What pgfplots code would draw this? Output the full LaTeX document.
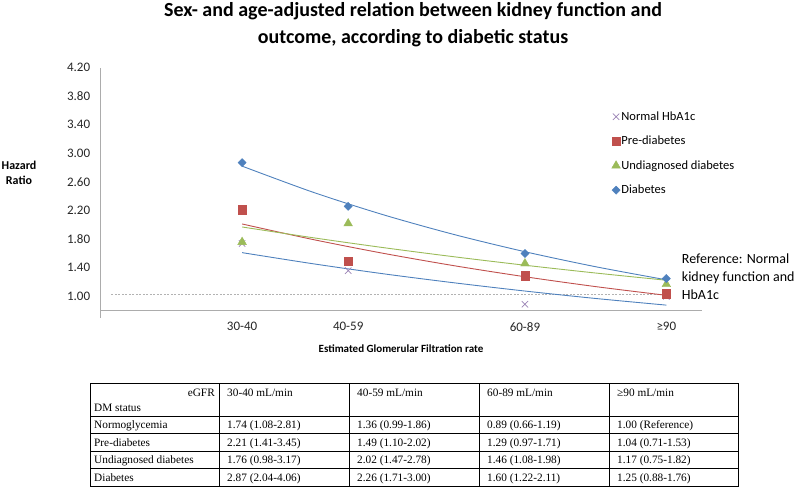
\documentclass[border=0pt]{standalone}
\usepackage{fontspec}
\setmainfont{Carlito}
\newfontfamily\tablefont{Liberation Serif}
\usepackage{pgfplots}
\pgfplotsset{compat=1.18}
\definecolor{exblue}{HTML}{4F81BD}
\definecolor{exred}{HTML}{C0504D}
\definecolor{exgreen}{HTML}{9BBB59}
\definecolor{expurple}{HTML}{8064A2}
\begin{document}
\begin{tikzpicture}
\path (0pt,0pt) rectangle (800pt,491pt);
\begin{axis}[
  at={(100.7pt,180.3pt)}, anchor=south west,
  scale only axis, width=601pt, height=243.1pt,
  xmin=15, xmax=100, ymin=0.8, ymax=4.2,
  axis x line*=bottom, axis y line*=left,
  axis line style={draw=gray!65, line width=0.9pt},
  major tick length=0pt,
  xtick={35,50,75,95},
  xticklabels={30-40,40-59,60-89,≥90},
  ytick={1.0,1.4,1.8,2.2,2.6,3.0,3.4,3.8,4.2},
  /pgf/number format/assume math mode=true,
  yticklabel style={/pgf/number format/fixed, /pgf/number format/fixed zerofill, /pgf/number format/precision=2, xshift=-7pt},
  xticklabel style={yshift=-8pt},
  tick label style={font=\fontsize{13}{15}\selectfont, text=black!85},
  clip=false,
  legend cell align=left,
  legend style={at={(0.845,0.832)}, anchor=north west, draw=none, fill=none,
    font=\fontsize{12.5}{14}\selectfont, row sep=12.3pt, nodes={inner sep=1pt}},
]
\draw[gray!65, line width=0.9pt] (axis cs:15,0.8) -- ++(0pt,-7pt);
% reference line
\addplot[forget plot, gray!60, line width=0.7pt, dash pattern=on 2pt off 1.5pt] coordinates {(16.5,1.03) (95,1.03)};
% trend lines
\addplot[forget plot, exblue, line width=0.9pt, smooth] coordinates {(35,1.612) (45,1.457) (55,1.316) (65,1.190) (75,1.075) (85,0.971) (95,0.878)};
\addplot[forget plot, exred, line width=0.9pt, smooth] coordinates {(35,2.013) (45,1.796) (55,1.602) (65,1.429) (75,1.275) (85,1.137) (95,1.015)};
\addplot[forget plot, exgreen, line width=0.9pt, smooth] coordinates {(35,1.971) (45,1.821) (55,1.682) (65,1.554) (75,1.436) (85,1.327) (95,1.226)};
\addplot[forget plot, exblue, line width=0.9pt, smooth] coordinates {(35,2.822) (45,2.458) (55,2.141) (65,1.865) (75,1.625) (85,1.415) (95,1.232)};
% data
\addplot[only marks, mark=x, mark size=4.5pt, expurple!80, mark options={line width=0.7pt}] coordinates {(35,1.74) (50,1.36) (75,0.89) (95,1.00)};
\addlegendentry{Normal HbA1c}
\addplot[only marks, mark=square*, mark size=4.2pt, exred] coordinates {(35,2.21) (50,1.49) (75,1.29) (95,1.04)};
\addlegendentry{Pre-diabetes}
\addplot[only marks, mark=triangle*, mark size=5pt, exgreen] coordinates {(35,1.76) (50,2.02) (75,1.46) (95,1.17)};
\addlegendentry{Undiagnosed diabetes}
\addplot[only marks, mark=square*, mark size=2.9pt, mark options={rotate=45}, exblue] coordinates {(35,2.87) (50,2.26) (75,1.60) (95,1.25)};
\addlegendentry{Diabetes}
\end{axis}
% title
\node[inner sep=0pt, anchor=base, font=\fontsize{20}{24}\bfseries] at (413pt,474.3pt) {Sex- and age-adjusted relation between kidney function and};
\node[inner sep=0pt, anchor=base, font=\fontsize{20}{24}\bfseries] at (413pt,447.7pt) {outcome, according to diabetic status};
% axis titles
\node[inner sep=0pt, align=center, font=\fontsize{12}{15}\bfseries] at (19pt,318.5pt) {Hazard\\Ratio};
\node[inner sep=0pt, font=\fontsize{11}{13}\bfseries] at (401pt,142pt) {Estimated Glomerular Filtration rate};
% reference note
\node[inner sep=0pt, anchor=base west, font=\fontsize{14}{17}\selectfont] at (681.7pt,227.5pt) {Reference: Normal};
\node[inner sep=0pt, anchor=base west, font=\fontsize{14}{17}\selectfont] at (681.7pt,209.5pt) {kidney function and};
\node[inner sep=0pt, anchor=base west, font=\fontsize{14}{17}\selectfont] at (681.7pt,191.5pt) {HbA1c};
% table
\begin{scope}[line width=0.8pt]
\draw (90pt,5pt) rectangle (738pt,108pt);
\foreach \yy in {75,57.5,40,22.5} {\draw (90pt,\yy pt) -- (738pt,\yy pt);}
\foreach \xx in {219,349,479,609} {\draw (\xx pt,5pt) -- (\xx pt,108pt);}
\end{scope}
\begin{scope}[every node/.style={inner sep=0pt, font=\tablefont\fontsize{11.3}{13}\selectfont}]
\node[anchor=base east] at (215pt,95pt) {eGFR};
\node[anchor=base west] at (94pt,80pt) {DM status};
\node[anchor=base west] at (227pt,95pt) {30-40 mL/min};
\node[anchor=base west] at (357pt,95pt) {40-59 mL/min};
\node[anchor=base west] at (487pt,95pt) {60-89 mL/min};
\node[anchor=base west] at (617pt,95pt) {≥90 mL/min};
\node[anchor=base west] at (94pt,62.5pt) {Normoglycemia};
\node[anchor=base west] at (227pt,62.5pt) {1.74 (1.08-2.81)};
\node[anchor=base west] at (357pt,62.5pt) {1.36 (0.99-1.86)};
\node[anchor=base west] at (487pt,62.5pt) {0.89 (0.66-1.19)};
\node[anchor=base west] at (617pt,62.5pt) {1.00 (Reference)};
\node[anchor=base west] at (94pt,45pt) {Pre-diabetes};
\node[anchor=base west] at (227pt,45pt) {2.21 (1.41-3.45)};
\node[anchor=base west] at (357pt,45pt) {1.49 (1.10-2.02)};
\node[anchor=base west] at (487pt,45pt) {1.29 (0.97-1.71)};
\node[anchor=base west] at (617pt,45pt) {1.04 (0.71-1.53)};
\node[anchor=base west] at (94pt,27.5pt) {Undiagnosed diabetes};
\node[anchor=base west] at (227pt,27.5pt) {1.76 (0.98-3.17)};
\node[anchor=base west] at (357pt,27.5pt) {2.02 (1.47-2.78)};
\node[anchor=base west] at (487pt,27.5pt) {1.46 (1.08-1.98)};
\node[anchor=base west] at (617pt,27.5pt) {1.17 (0.75-1.82)};
\node[anchor=base west] at (94pt,10pt) {Diabetes};
\node[anchor=base west] at (227pt,10pt) {2.87 (2.04-4.06)};
\node[anchor=base west] at (357pt,10pt) {2.26 (1.71-3.00)};
\node[anchor=base west] at (487pt,10pt) {1.60 (1.22-2.11)};
\node[anchor=base west] at (617pt,10pt) {1.25 (0.88-1.76)};
\end{scope}
\end{tikzpicture}
\end{document}
